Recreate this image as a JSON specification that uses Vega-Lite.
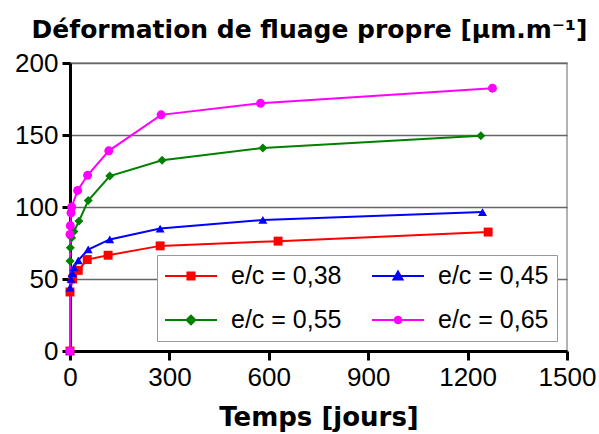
{
  "$schema": "https://vega.github.io/schema/vega-lite/v6.json",
  "width": 497,
  "height": 288,
  "autosize": "none",
  "padding": {"left": 70, "top": 63, "right": 32, "bottom": 83},
  "config": {
    "font": "Liberation Sans",
    "view": {"stroke": "#999999", "strokeWidth": 1.5},
    "axis": {"labelFont": "Liberation Sans", "titleFont": "DejaVu Sans"}
  },
  "title": {
    "text": "Déformation de fluage propre [µm.m⁻¹]",
    "font": "DejaVu Sans",
    "fontSize": 25,
    "fontWeight": "bold",
    "color": "#000000",
    "anchor": "middle",
    "dx": -9,
    "offset": 7
  },
  "data": {
    "values": [
      {"serie": "e/c = 0,38", "i": 0, "jours": 0, "def": 0},
      {"serie": "e/c = 0,38", "i": 1, "jours": 0, "def": 41},
      {"serie": "e/c = 0,38", "i": 2, "jours": 8, "def": 50},
      {"serie": "e/c = 0,38", "i": 3, "jours": 25, "def": 56},
      {"serie": "e/c = 0,38", "i": 4, "jours": 52, "def": 63.5},
      {"serie": "e/c = 0,38", "i": 5, "jours": 115, "def": 66.5},
      {"serie": "e/c = 0,38", "i": 6, "jours": 272, "def": 73},
      {"serie": "e/c = 0,38", "i": 7, "jours": 628, "def": 76.3},
      {"serie": "e/c = 0,38", "i": 8, "jours": 1262, "def": 82.6},
      {"serie": "e/c = 0,45", "i": 0, "jours": 0, "def": 0},
      {"serie": "e/c = 0,45", "i": 1, "jours": 0, "def": 44},
      {"serie": "e/c = 0,45", "i": 2, "jours": 3, "def": 50},
      {"serie": "e/c = 0,45", "i": 3, "jours": 7, "def": 54},
      {"serie": "e/c = 0,45", "i": 4, "jours": 12, "def": 58},
      {"serie": "e/c = 0,45", "i": 5, "jours": 25, "def": 63},
      {"serie": "e/c = 0,45", "i": 6, "jours": 55, "def": 70.5},
      {"serie": "e/c = 0,45", "i": 7, "jours": 120, "def": 77.5},
      {"serie": "e/c = 0,45", "i": 8, "jours": 272, "def": 85},
      {"serie": "e/c = 0,45", "i": 9, "jours": 582, "def": 91},
      {"serie": "e/c = 0,45", "i": 10, "jours": 1245, "def": 96.5},
      {"serie": "e/c = 0,55", "i": 0, "jours": 0, "def": 0},
      {"serie": "e/c = 0,55", "i": 1, "jours": 0, "def": 62.5},
      {"serie": "e/c = 0,55", "i": 2, "jours": 1, "def": 71.7},
      {"serie": "e/c = 0,55", "i": 3, "jours": 5, "def": 78.6},
      {"serie": "e/c = 0,55", "i": 4, "jours": 12, "def": 83},
      {"serie": "e/c = 0,55", "i": 5, "jours": 27, "def": 90.2},
      {"serie": "e/c = 0,55", "i": 6, "jours": 55, "def": 104.5},
      {"serie": "e/c = 0,55", "i": 7, "jours": 120, "def": 121.5},
      {"serie": "e/c = 0,55", "i": 8, "jours": 278, "def": 132.5},
      {"serie": "e/c = 0,55", "i": 9, "jours": 582, "def": 141},
      {"serie": "e/c = 0,55", "i": 10, "jours": 1240, "def": 149.5},
      {"serie": "e/c = 0,65", "i": 0, "jours": 0, "def": 0},
      {"serie": "e/c = 0,65", "i": 1, "jours": 0, "def": 81},
      {"serie": "e/c = 0,65", "i": 2, "jours": 1, "def": 87},
      {"serie": "e/c = 0,65", "i": 3, "jours": 3, "def": 96},
      {"serie": "e/c = 0,65", "i": 4, "jours": 5, "def": 100},
      {"serie": "e/c = 0,65", "i": 5, "jours": 23, "def": 111.5},
      {"serie": "e/c = 0,65", "i": 6, "jours": 53, "def": 122},
      {"serie": "e/c = 0,65", "i": 7, "jours": 117, "def": 139},
      {"serie": "e/c = 0,65", "i": 8, "jours": 275, "def": 164},
      {"serie": "e/c = 0,65", "i": 9, "jours": 575, "def": 172},
      {"serie": "e/c = 0,65", "i": 10, "jours": 1275, "def": 182.5}
    ]
  },
  "encoding": {
    "x": {
      "field": "jours",
      "type": "quantitative",
      "scale": {"domain": [0, 1500], "nice": false},
      "axis": {
        "values": [0, 300, 600, 900, 1200, 1500],
        "format": "d",
        "grid": false,
        "title": "Temps [jours]",
        "titleFont": "DejaVu Sans",
        "titleFontSize": 26,
        "titleFontWeight": "bold",
        "titleColor": "#000000",
        "titlePadding": 14,
        "labelFontSize": 26,
        "labelColor": "#000000",
        "labelPadding": 4,
        "labelFlush": false,
        "domainColor": "#000000",
        "domainWidth": 3,
        "tickColor": "#000000",
        "tickWidth": 3,
        "tickSize": 9
      }
    },
    "y": {
      "field": "def",
      "type": "quantitative",
      "scale": {"domain": [0, 200], "nice": false},
      "axis": {
        "values": [0, 50, 100, 150, 200],
        "title": null,
        "grid": true,
        "gridColor": "#666666",
        "gridWidth": 1.5,
        "labelFontSize": 26,
        "labelColor": "#000000",
        "labelPadding": 4,
        "labelFlush": false,
        "domainColor": "#000000",
        "domainWidth": 3,
        "tickColor": "#000000",
        "tickWidth": 3,
        "tickSize": 8
      }
    }
  },
  "layer": [
    {
      "mark": {"type": "line", "strokeWidth": 2},
      "encoding": {
        "order": {"field": "i", "type": "quantitative"},
        "color": {
          "field": "serie",
          "type": "nominal",
          "scale": {"domain": ["e/c = 0,38", "e/c = 0,45", "e/c = 0,55", "e/c = 0,65"], "range": ["#ff0000", "#0000ff", "#008000", "#ff00ff"]},
          "legend": null
        }
      }
    },
    {
      "mark": {"type": "point", "filled": true, "opacity": 1, "size": 80},
      "encoding": {
        "color": {
          "field": "serie",
          "type": "nominal",
          "scale": {"domain": ["e/c = 0,38", "e/c = 0,45", "e/c = 0,55", "e/c = 0,65"], "range": ["#ff0000", "#0000ff", "#008000", "#ff00ff"]},
          "legend": null
        },
        "shape": {
          "field": "serie",
          "type": "nominal",
          "scale": {"domain": ["e/c = 0,38", "e/c = 0,45", "e/c = 0,55", "e/c = 0,65"], "range": ["square", "triangle-up", "diamond", "circle"]},
          "legend": null
        }
      }
    },
    {
      "mark": {"type": "point", "filled": true, "opacity": 0, "size": 10},
      "encoding": {
        "color": {
          "field": "serie",
          "type": "nominal",
          "scale": {"domain": ["e/c = 0,38", "e/c = 0,45", "e/c = 0,55", "e/c = 0,65"], "range": ["#ff0000", "#0000ff", "#008000", "#ff00ff"]},
          "legend": {
            "title": null,
            "orient": "none",
            "legendX": 87,
            "legendY": 192,
            "direction": "horizontal",
            "columns": 2,
            "padding": 8,
            "fillColor": "#ffffff",
            "strokeColor": "#999999",
            "labelFontSize": 25,
            "labelColor": "#000000",
            "labelFont": "Liberation Sans",
            "symbolSize": 676,
            "symbolStrokeWidth": 0,
            "symbolOpacity": 1,
            "symbolOffset": 13,
            "labelOffset": 27,
            "rowPadding": 18,
            "columnPadding": 30
          }
        },
        "shape": {
          "field": "serie",
          "type": "nominal",
          "scale": {
            "domain": ["e/c = 0,38", "e/c = 0,45", "e/c = 0,55", "e/c = 0,65"],
            "range": [
              "M-2,-0.07L2,-0.07L2,0.07L-2,0.07Z M-0.35,-0.35L0.35,-0.35L0.35,0.35L-0.35,0.35Z",
              "M-2,-0.07L2,-0.07L2,0.07L-2,0.07Z M0,-0.5L0.48,0.35L-0.48,0.35Z",
              "M-2,-0.07L2,-0.07L2,0.07L-2,0.07Z M0,-0.45L0.45,0L0,0.45L-0.45,0Z",
              "M-2,-0.07L2,-0.07L2,0.07L-2,0.07Z M-0.33,0A0.33,0.33,0,1,1,0.33,0A0.33,0.33,0,1,1,-0.33,0Z"
            ]
          },
          "legend": {
            "title": null,
            "orient": "none",
            "legendX": 87,
            "legendY": 192,
            "direction": "horizontal",
            "columns": 2,
            "padding": 8,
            "fillColor": "#ffffff",
            "strokeColor": "#999999",
            "labelFontSize": 25,
            "labelColor": "#000000",
            "labelFont": "Liberation Sans",
            "symbolSize": 676,
            "symbolStrokeWidth": 0,
            "symbolOpacity": 1,
            "symbolOffset": 13,
            "labelOffset": 27,
            "rowPadding": 18,
            "columnPadding": 30
          }
        }
      }
    }
  ],
  "resolve": {
    "scale": {"color": "independent", "shape": "independent"},
    "legend": {"color": "independent", "shape": "independent"}
  }
}
